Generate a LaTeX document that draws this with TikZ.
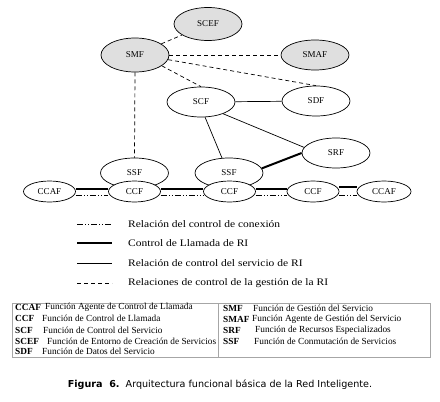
\documentclass[tikz,border=0pt]{standalone}
\usepackage{fontspec}
\setmainfont{Liberation Serif}
\newfontfamily\capfont{DejaVu Sans}
\newfontfamily\wideserif[FakeStretch=1.15]{Liberation Serif}
\usetikzlibrary{shapes.geometric}
\begin{document}
\begin{tikzpicture}[x=1pt,y=-1pt,
  fn/.style={ellipse,draw,line width=0.7pt,fill=white,inner sep=0pt,
    minimum width=68pt,minimum height=30pt,font=\fontsize{9}{10}\selectfont},
  gr/.style={fn,fill=gray!25},
  cc/.style={fn,minimum width=52pt,minimum height=21pt},
  mg/.style={line width=0.7pt,dash pattern=on 4pt off 3pt},
  sv/.style={line width=0.7pt},
  cl/.style={line width=2pt},
  cn/.style={line width=0.7pt,dash pattern=on 6pt off 2pt on 1pt off 2pt on 1pt off 2pt},
  lg/.style={anchor=west,inner sep=0pt,font=\wideserif\fontsize{10}{12}\selectfont},
  ab/.style={anchor=west,inner sep=0pt,font=\fontsize{9.3}{10}\selectfont\bfseries},
  ds/.style={anchor=west,inner sep=0pt,font=\fontsize{9.3}{10}\selectfont},
  tb/.style={draw=gray!70,line width=0.7pt}
]
\useasboundingbox (0,0) rectangle (440,402);
\fill[white] (0,0) rectangle (440,402);

% nodes
\node[gr,minimum height=33pt] (scef) at (208,24) {SCEF};
\node[gr,minimum height=34pt] (smf) at (135,55) {SMF};
\node[gr] (smaf) at (315,55) {SMAF};
\node[fn] (scf) at (201,102) {SCF};
\node[fn] (sdf) at (316,101) {SDF};
\node[fn] (srf) at (336,153) {SRF};
\node[fn] (ssf1) at (134.5,173) {SSF};
\node[fn] (ssf2) at (229,173) {SSF};
\node[cc] (ccaf1) at (49.5,191.5) {CCAF};
\node[cc] (ccf1) at (134.5,191.5) {CCF};
\node[cc] (ccf2) at (229.5,191.5) {CCF};
\node[cc] (ccf3) at (313,191.5) {CCF};
\node[cc,minimum width=54pt] (ccaf2) at (384,191.5) {CCAF};

% management relations
\draw[mg] (smf) -- (scef);
\draw[mg] (smf) -- (smaf);
\draw[mg] (smf.-22) -- (scf.north);
\draw[mg] (smf.-8) -- (sdf.north);
\draw[mg] (smf.south) -- (ssf1.north);

% service control relations
\draw[sv] (scf) -- (sdf);
\draw[sv] (scf.-75) -- (ssf2.115);
\draw[sv] (scf.-28) -- (srf.170);
\draw[cl] (ssf2.8) -- (srf.west);

% call control & connection control
\draw[cl] ([yshift=2.5pt]ccaf1.east) -- ([yshift=2.5pt]ccf1.west);
\draw[cn] ([yshift=-4pt]ccaf1.east) -- ([yshift=-4pt]ccf1.west);
\draw[cl] ([yshift=2.5pt]ccf1.east) -- ([yshift=2.5pt]ccf2.west);
\draw[cn] ([yshift=-4pt]ccf1.east) -- ([yshift=-4pt]ccf2.west);
\draw[cl] ([yshift=2.5pt]ccf2.east) -- ([yshift=2.5pt]ccf3.west);
\draw[cn] ([yshift=-4pt]ccf2.east) -- ([yshift=-4pt]ccf3.west);
\draw[cl] ([yshift=5pt]ccf3.east) -- ([yshift=5pt]ccaf2.west);
\draw[cn] ([yshift=-4pt]ccf3.east) -- ([yshift=-4pt]ccaf2.west);

% legend
\coordinate (l1a) at (77,224); \coordinate (l1b) at (112,224);
\coordinate (l2a) at (77,243); \coordinate (l2b) at (112,243);
\coordinate (l3a) at (77,263); \coordinate (l3b) at (112,263);
\coordinate (l4a) at (77,283); \coordinate (l4b) at (112,283);
\draw[cn] (l1a) -- (l1b);
\draw[cl] (l2a) -- (l2b);
\draw[sv] (l3a) -- (l3b);
\draw[mg] (l4a) -- (l4b);
\node[lg] (t1) at (128,224) {Relación del control de conexión};
\node[lg] (t2) at (128,243) {Control de Llamada de RI};
\node[lg] (t3) at (128,263) {Relación de control del servicio de RI};
\node[lg] (t4) at (128,283) {Relaciones de control de la gestión de la RI};

% table
\draw[tb] (12,303) rectangle (430,357);
\draw[tb] (218,303) -- (218,357);
\node[ab] (a1) at (15,307) {CCAF};
\node[ab] (a2) at (15,318.5) {CCF};
\node[ab] (a3) at (15,330) {SCF};
\node[ab] (a4) at (15,341) {SCEF};
\node[ab] (a5) at (15,351.5) {SDF};
\node[ds] (d1) at (45,307) {Función Agente de Control de Llamada};
\node[ds] (d2) at (42,318.5) {Función de Control de Llamada};
\node[ds] (d3) at (43,330) {Función de Control del Servicio};
\node[ds] (d4) at (47,341) {Función de Entorno de Creación de Servicios};
\node[ds] (d5) at (42,351.5) {Función de Datos del Servicio};
\node[ab] (a6) at (223,308) {SMF};
\node[ab] (a7) at (223,319) {SMAF};
\node[ab] (a8) at (223,330.5) {SRF};
\node[ab] (a9) at (223,341.5) {SSF};
\node[ds] (d6) at (253,308) {Función de Gestión del Servicio};
\node[ds] (d7) at (252,319) {Función Agente de Gestión del Servicio};
\node[ds] (d8) at (255,330.5) {Función de Recursos Especializados};
\node[ds] (d9) at (254,341.5) {Función de Conmutación de Servicios};

% caption
\node[inner sep=0pt,font=\capfont\fontsize{9.6}{11}\selectfont] (cap) at (220,385)
  {\textbf{Figura\ \ 6.}\ \ Arquitectura funcional básica de la Red Inteligente.};
\end{tikzpicture}
\end{document}
